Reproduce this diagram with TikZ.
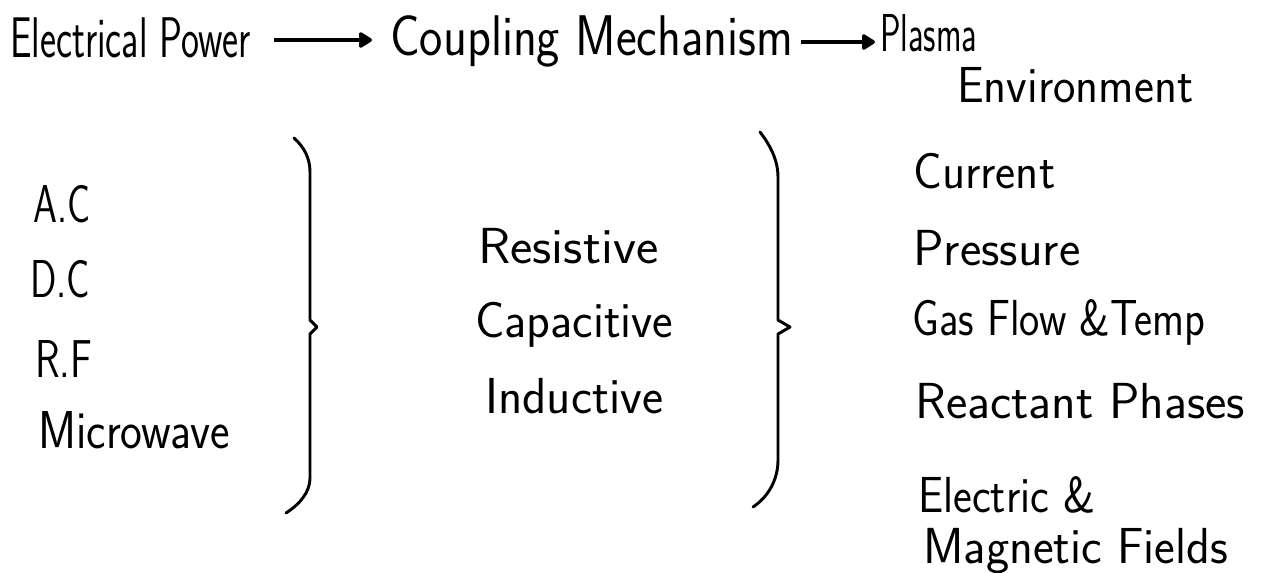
\documentclass[tikz,border=0pt]{standalone}
\usepackage{fontspec}
\usepackage{graphicx}
\usetikzlibrary{arrows.meta}
\newlength\pxu \setlength\pxu{0.75pt}
\newcommand\fitw[2]{\resizebox{#1\pxu}{\height}{#2}}
\tikzset{
  lbl/.style={anchor=base west, inner sep=0pt, font=\sffamily\fontsize{38}{42}\selectfont},
  lblL/.style={lbl, font=\sffamily\fontsize{40}{44}\selectfont},
  big/.style={lbl, font=\sffamily\fontsize{43}{48}\selectfont},
  flow/.style={line width=2.6pt, -{Triangle[length=11pt,width=13pt,round]}},
  brace/.style={line width=2.2pt, line cap=round, line join=round}
}
\begin{document}
\begin{tikzpicture}[x=0.75pt, y=-0.75pt]
\useasboundingbox (0,0) rectangle (1263,572);
% header
\node[big] (ep) at (10,57) {\fitw{240}{Electrical Power}};
\node[big] (cm) at (390,55) {\fitw{403}{Coupling Mechanism}};
\node[lblL] (pl) at (880,51) {\fitw{97}{Plasma}};
\node[lbl] (env) at (957,102) {\fitw{236}{Environment}};
\draw[flow] ([shift={(23,-17)}]ep.base east) -- ([shift={(-18,-15)}]cm.base west);
\draw[flow] ([shift={(7,-13)}]cm.base east) -- ([shift={(-5,-9)}]pl.base west);
% left column
\node[lblL] (ac) at (33,222) {\fitw{57}{A.C}};
\node[lblL] (dc) at (30,297) {\fitw{60}{D.C}};
\node[lblL] (rf) at (35,377) {\fitw{57}{R.F}};
\node[lblL] (mw) at (38,448) {\fitw{192}{Microwave}};
% middle column
\node[lbl] (res) at (478,263) {\fitw{180}{Resistive}};
\node[lbl] (cap) at (475,337) {\fitw{198}{Capacitive}};
\node[lbl] (ind) at (485,413) {\fitw{178}{Inductive}};
% right column
\node[lbl] (cur) at (913,188) {\fitw{142}{Current}};
\node[lbl] (pre) at (913,265) {\fitw{167}{Pressure}};
\node[lbl] (gas) at (912,335) {\fitw{293}{Gas Flow \&Temp}};
\node[lbl] (rea) at (915,418) {\fitw{330}{Reactant Phases}};
\node[lbl] (el) at (918,512) {\fitw{177}{Electric \&}};
\node[lbl] (mag) at (923,563) {\fitw{305}{Magnetic Fields}};
% braces
\draw[brace] (294,138) .. controls (304,147) and (310,158) .. (310,172)
  -- (310,320) -- (317,327) -- (310,334) -- (310,478)
  .. controls (310,492) and (300,504) .. (286,513);
\draw[brace] (760,132) .. controls (770,145) and (778,160) .. (778,177)
  -- (778,320) -- (790,327) -- (778,334) -- (778,460)
  .. controls (778,480) and (768,497) .. (753,507);
\end{tikzpicture}
\end{document}
